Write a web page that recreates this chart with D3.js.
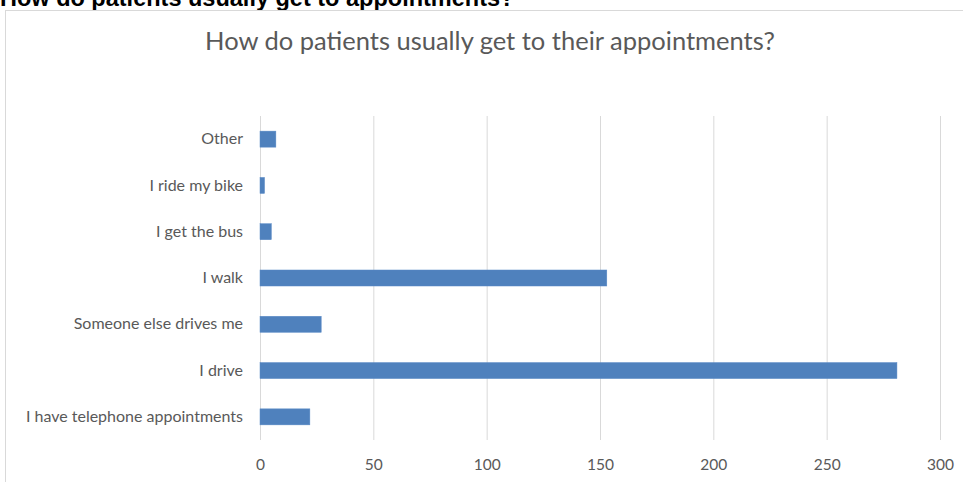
<!DOCTYPE html>
<html>
<head>
<meta charset="utf-8">
<script src="https://cdn.jsdelivr.net/npm/d3@7"></script>
<style>
  body { margin: 0; background: #fff; }
  text { font-family: Lato, 'Open Sans', sans-serif; }
</style>
</head>
<body>
<div id="chart"></div>
<script>
var heading = 'How do patients usually get to appointments?'
var chartTitle = 'How do patients usually get to their appointments?'
var categories = ['I have telephone appointments', 'I drive', 'Someone else drives me', 'I walk', 'I get the bus', 'I ride my bike', 'Other']
var counts = [22, 281, 27, 153, 5, 2, 7]
var ticks = [0, 50, 100, 150, 200, 250, 300]

var width = 963
var height = 482

var svg = d3.select('#chart')
  .append('svg')
  .attr('width', width)
  .attr('height', height)

// page heading, cut off at the top
svg.append('text')
  .attr('x', 0)
  .attr('y', 6)
  .attr('font-weight', 'bold')
  .attr('font-size', 23.5)
  .attr('fill', '#000')
  .style('font-family', 'Liberation Sans, Arial, sans-serif')
  .text(heading)

// chart frame
svg.append('rect')
  .attr('x', 5.5)
  .attr('y', 10.5)
  .attr('width', 1000)
  .attr('height', 600)
  .attr('fill', '#fff')
  .attr('stroke', '#d9d9d9')
  .attr('stroke-width', 1)

svg.append('text')
  .attr('x', 490)
  .attr('y', 50)
  .attr('text-anchor', 'middle')
  .attr('font-size', 25.5)
  .attr('fill', '#595959')
  .text(chartTitle)

var x = d3.scaleLinear()
  .domain([0, 300])
  .range([260, 940])

var y = d3.scaleBand()
  .domain(categories.slice().reverse())
  .range([116, 440])
  .paddingInner(0.654)
  .paddingOuter(0.327)

var grid = svg.append('g')
  .attr('transform', 'translate(0,440)')
  .call(d3.axisBottom(x).tickValues(ticks).tickSize(-324).tickFormat(''))
grid.select('.domain').remove()
grid.selectAll('line').attr('stroke', '#d9d9d9').attr('stroke-width', 1)

var xAxis = svg.append('g')
  .attr('transform', 'translate(0,440)')
  .call(d3.axisBottom(x).tickValues(ticks).tickSize(0).tickPadding(19))
xAxis.select('.domain').remove()
xAxis.selectAll('text')
  .attr('font-size', 15.5)
  .attr('fill', '#595959')
  .style('font-family', 'Lato, sans-serif')

var yAxis = svg.append('g')
  .attr('transform', 'translate(260,0)')
  .call(d3.axisLeft(y).tickSize(0).tickPadding(17))
yAxis.select('.domain').remove()
yAxis.selectAll('text')
  .attr('font-size', 16)
  .attr('fill', '#595959')
  .style('font-family', 'Lato, sans-serif')

svg.selectAll('.bar')
  .data(counts)
  .enter()
  .append('rect')
  .attr('class', 'bar')
  .attr('x', x(0))
  .attr('y', function (d, i) {
    return y(categories[i])
  })
  .attr('width', function (d) {
    return x(d) - x(0)
  })
  .attr('height', y.bandwidth())
  .attr('fill', '#4f81bd')
  .attr('stroke', '#5a8ac6')
  .attr('stroke-width', 0.5)
</script>
</body>
</html>
